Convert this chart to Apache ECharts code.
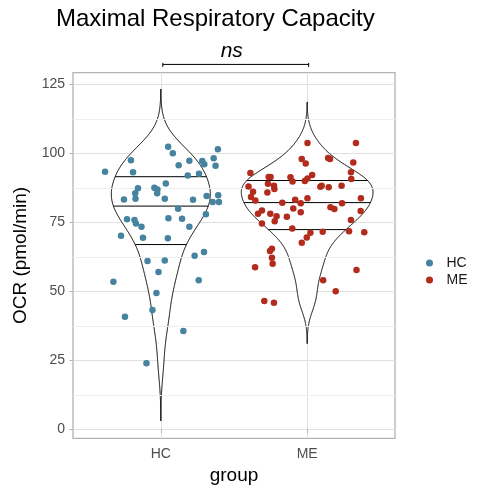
<!DOCTYPE html>
<html><head><meta charset="utf-8">
<script src="https://cdn.jsdelivr.net/npm/echarts@6/dist/echarts.min.js"></script>
<style>html,body{margin:0;padding:0;background:#fff}#c{width:500px;height:499px}</style>
</head><body><div id="c"></div>
<script>
const groups = ['HC', 'ME'];
const hcValues = [102.4,100.0,101.5,97.5,97.3,97.2,96.0,98.2,95.7,95.5,93.3,93.1,92.0,92.6,89.1,87.3,87.5,86.9,85.5,85.5,83.5,83.3,83.5,83.2,84.5,84.8,82.4,82.4,79.9,77.9,76.1,75.8,74.6,73.4,76.5,76.3,73.4,70.1,69.4,69.2,62.9,64.2,61.0,61.2,57.0,53.5,54.0,49.4,43.2,40.8,35.6,23.9];
const hcJitter = [0.050,0.082,0.390,-0.204,0.195,0.283,0.297,0.361,0.122,0.374,-0.381,-0.190,0.184,0.261,0.034,-0.156,-0.044,-0.023,-0.025,-0.175,-0.173,-0.252,0.027,0.220,0.313,0.392,0.354,0.397,0.118,0.308,-0.231,-0.180,-0.170,-0.132,0.052,0.145,0.195,-0.272,-0.122,0.048,0.231,0.295,-0.091,0.027,-0.016,-0.324,0.259,-0.030,-0.057,-0.245,0.154,-0.098];
const meValues = [103.7,103.7,97.9,96.3,98.3,97.9,96.7,92.9,93.1,91.4,91.4,91.3,89.8,90.0,90.9,92.1,90.7,88.0,89.0,88.2,87.1,86.1,85.8,87.9,88.2,87.7,88.2,84.2,82.9,82.1,83.2,81.9,83.7,83.7,81.9,79.3,78.1,78.1,80.0,78.6,80.5,79.8,79.1,77.0,77.2,75.4,74.6,75.8,72.8,71.2,71.6,71.8,71.4,69.5,67.6,65.4,64.6,62.2,60.0,58.7,57.7,54.0,50.0,46.5,45.9];
const meJitter = [0.002,0.333,-0.037,-0.010,0.143,0.156,0.315,-0.388,0.299,-0.263,-0.250,-0.114,-0.100,-0.016,0.002,0.034,0.301,-0.401,-0.268,-0.227,-0.224,-0.370,-0.272,0.090,0.099,0.147,0.235,-0.384,-0.354,-0.170,-0.082,-0.044,0.002,0.367,0.238,-0.309,-0.336,-0.252,-0.095,-0.044,0.159,0.186,0.365,-0.139,-0.209,-0.222,-0.309,0.299,-0.102,0.022,0.106,0.286,0.390,-0.003,-0.037,-0.241,-0.254,-0.241,-0.236,-0.356,0.337,0.109,0.195,-0.293,-0.227];
const yTicks = [0, 25, 50, 75, 100, 125];
const yMinorTicks = [12.5, 37.5, 62.5, 87.5, 112.5];
const quantileLevels = [0.25, 0.5, 0.75];
const colors = ['#45839F', '#B22C1D'];
const titleText = 'Maximal Respiratory Capacity';
const sigLabel = 'ns';
const sigLevel = 132.2;

const FONT = '"Liberation Sans", Arial, sans-serif';

function q7(s, p) { const h = (s.length - 1) * p; const lo = Math.floor(h), hi = Math.ceil(h); return s[lo] + (h - lo) * (s[hi] - s[lo]); }
function nrd0(x) {
  const n = x.length; const m = x.reduce((a, b) => a + b, 0) / n;
  const sd = Math.sqrt(x.reduce((a, b) => a + (b - m) * (b - m), 0) / (n - 1));
  const s = [...x].sort((a, b) => a - b);
  const iqr = q7(s, 0.75) - q7(s, 0.25);
  return 0.9 * Math.min(sd, iqr / 1.34) * Math.pow(n, -0.2);
}
function kde(x) {
  const bw = nrd0(x); const mn = Math.min(...x), mx = Math.max(...x);
  const from = mn - 3 * bw, to = mx + 3 * bw, N = 512; const ys = [], ds = [];
  for (let i = 0; i < N; i++) {
    const y = from + (to - from) * i / (N - 1); let d = 0;
    for (const v of x) { const z = (y - v) / bw; d += Math.exp(-0.5 * z * z); }
    ys.push(y); ds.push(d / (x.length * bw * Math.sqrt(2 * Math.PI)));
  }
  return { ys, ds };
}
const dens = [kde(hcValues), kde(meValues)];
const gmax = Math.max(...dens.map(d => Math.max(...d.ds)));
dens.forEach(k => {
  k.half = k.ds.map(d => d / gmax * 0.45);
  const tot = k.ds.reduce((a, b) => a + b, 0); let c = 0;
  const cum = k.ds.map(d => (c += d) / tot);
  k.qs = quantileLevels.map(q => {
    let i = 0; while (i < cum.length - 1 && cum[i + 1] < q) i++;
    const t = (q - cum[i]) / (cum[i + 1] - cum[i]);
    const y = k.ys[i] + t * (k.ys[i + 1] - k.ys[i]);
    const h = k.half[i] + t * (k.half[i + 1] - k.half[i]);
    return { y, h };
  });
});

const chart = echarts.init(document.getElementById('c'), null, { renderer: 'canvas' });
const option = {
  animation: false,
  backgroundColor: '#fff',
  title: { text: titleText, left: 51, top: 2, textStyle: { fontFamily: FONT, fontSize: 24, fontWeight: 'normal', color: '#000' } },
  legend: {
    orient: 'vertical', left: 421, top: 251, itemWidth: 24, itemHeight: 7, itemGap: 3,
    icon: 'circle', data: groups,
    textStyle: { fontFamily: FONT, fontSize: 14, color: '#1a1a1a', lineHeight: 14 }
  },
  grid: { left: 73, right: 105, top: 72.7, bottom: 60.7, show: true, borderColor: '#B3B3B3', borderWidth: 1.3, backgroundColor: 'transparent' },
  xAxis: {
    type: 'value', min: 0.4, max: 2.6, name: 'group', nameLocation: 'middle', nameGap: 26,
    nameTextStyle: { fontFamily: FONT, fontSize: 19, color: '#000' },
    axisLine: { show: false },
    axisTick: { show: true, length: 3.5, lineStyle: { color: '#B3B3B3', width: 1 }, customValues: [1, 2] },
    axisLabel: { customValues: [1, 2], formatter: v => groups[Math.round(v) - 1] || '', margin: 9, fontFamily: FONT, fontSize: 14, color: '#4D4D4D' },
    splitLine: { show: true, lineStyle: { color: '#E0E0E0', width: 1 } }
  },
  yAxis: {
    type: 'value', min: -3.25, max: 129.2, name: 'OCR (pmol/min)', nameLocation: 'middle', nameGap: 35, nameRotate: 90,
    nameTextStyle: { fontFamily: FONT, fontSize: 19, color: '#000' },
    axisLine: { show: false },
    axisTick: { show: true, length: 3.5, lineStyle: { color: '#B3B3B3', width: 1 }, customValues: yTicks },
    axisLabel: { customValues: yTicks, margin: 8, fontFamily: FONT, fontSize: 14, color: '#4D4D4D' },
    splitLine: { show: true, lineStyle: { color: '#E0E0E0', width: 1 } }
  },
  series: [
    {
      type: 'line', data: [], z: 1, silent: true,
      markLine: { silent: true, symbol: 'none', label: { show: false }, animation: false,
        lineStyle: { color: '#EFEFEF', width: 1, type: 'solid' },
        data: yMinorTicks.map(v => ({ yAxis: v })) }
    },
    {
      type: 'custom', z: 3, silent: true,
      data: groups.map((g, i) => [i + 1, 0]),
      encode: { x: 0, y: 1 },
      renderItem(params, api) {
        const k = dens[params.dataIndex]; const cx = params.dataIndex + 1;
        const pts = [];
        for (let i = 0; i < k.ys.length; i++) pts.push(api.coord([cx - k.half[i], k.ys[i]]));
        for (let i = k.ys.length - 1; i >= 0; i--) pts.push(api.coord([cx + k.half[i], k.ys[i]]));
        const children = [{ type: 'polygon', shape: { points: pts }, style: { fill: '#fff', stroke: '#000', lineWidth: 1 } }];
        k.qs.forEach(q => {
          const a = api.coord([cx - q.h, q.y]), b = api.coord([cx + q.h, q.y]);
          children.push({ type: 'line', shape: { x1: a[0], y1: a[1], x2: b[0], y2: b[1] }, style: { stroke: '#000', lineWidth: 1 } });
        });
        return { type: 'group', children };
      }
    },
    { name: 'HC', type: 'scatter', z: 5, symbolSize: 6.5, itemStyle: { color: colors[0], opacity: 1 },
      data: hcValues.map((v, i) => [1 + hcJitter[i], v]) },
    { name: 'ME', type: 'scatter', z: 5, symbolSize: 6.5, itemStyle: { color: colors[1], opacity: 1 },
      data: meValues.map((v, i) => [2 + meJitter[i], v]) }
  ]
};
chart.setOption(option);
const p1 = chart.convertToPixel({ gridIndex: 0 }, [1, sigLevel]);
const p2 = chart.convertToPixel({ gridIndex: 0 }, [2, sigLevel]);
const x1 = p1[0] + 2, x2 = p2[0] + 1.5, yb = p1[1];
chart.setOption({
  graphic: [
    { type: 'line', shape: { x1, y1: yb, x2, y2: yb }, style: { stroke: '#000', lineWidth: 1 } },
    { type: 'line', shape: { x1, y1: yb - 1.5, x2: x1, y2: yb + 2.5 }, style: { stroke: '#000', lineWidth: 1 } },
    { type: 'line', shape: { x1: x2, y1: yb - 1.5, x2, y2: yb + 2.5 }, style: { stroke: '#000', lineWidth: 1 } },
    { type: 'text', x: (x1 + x2) / 2 - 4, y: yb - 3, style: { text: sigLabel, fontFamily: FONT, fontSize: 21, fontStyle: 'italic', fill: '#000', textAlign: 'center', textVerticalAlign: 'bottom' } }
  ]
});
</script></body></html>
